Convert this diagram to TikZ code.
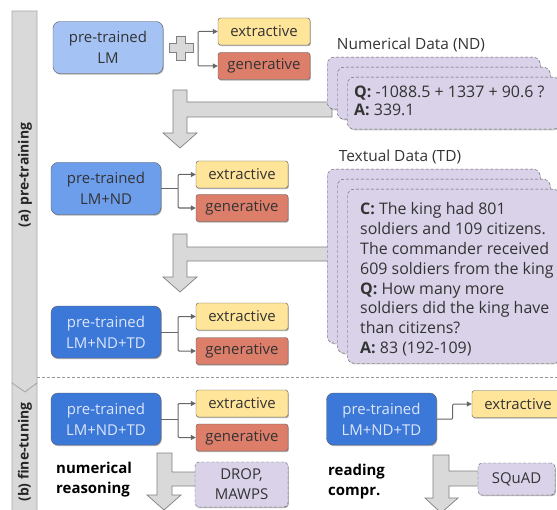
\documentclass[tikz,border=0pt]{standalone}
\usepackage{fontspec}
\setmainfont{Open Sans}
\usetikzlibrary{shadows}
\usetikzlibrary{arrows.meta}
\definecolor{lmColorA}{HTML}{A4C2F4}
\definecolor{lmColorB}{HTML}{6D9EEB}
\definecolor{lmColorC}{HTML}{3C78D8}
\definecolor{extColor}{HTML}{FFE599}
\definecolor{genColor}{HTML}{DD7E6B}
\definecolor{dataColor}{HTML}{D9D2E9}
\definecolor{arrowColor}{HTML}{D9D9D9}
\definecolor{arrowLineColor}{HTML}{808080}
\definecolor{lineColor}{HTML}{595959}
\definecolor{forkColor}{HTML}{666666}
\definecolor{textColor}{HTML}{333333}
\definecolor{lightTextColor}{HTML}{DCE6FA}
\def\textLM{pre-trained\\LM}
\def\textND{pre-trained\\LM+ND}
\def\textTD{pre-trained\\LM+ND+TD}
\tikzset{
  boxshadow/.style={drop shadow={shadow xshift=.8bp, shadow yshift=-1.2bp, opacity=.3, fill=black}},
  lmbox/.style={draw=lineColor, rounded corners=7bp, minimum width=110bp, minimum height=52bp,
    align=center, inner sep=0pt, boxshadow, font=\fontsize{15}{21}\selectfont},
  headbox/.style={draw=lineColor, rounded corners=2.5bp, minimum width=92bp, minimum height=27bp,
    inner sep=0pt, text=textColor, boxshadow, font=\fontsize{15}{18}\selectfont},
  card/.style={draw=lineColor, densely dashed, fill=dataColor, rounded corners=7bp,
    inner sep=0pt, drop shadow={shadow xshift=.8bp, shadow yshift=-1.2bp, opacity=.2, fill=black}},
  setbox/.style={draw=lineColor, densely dashed, fill=dataColor, rounded corners=4bp,
    align=center, inner sep=0pt, text=textColor, boxshadow, font=\fontsize{15}{20}\selectfont},
  fork/.style={draw=forkColor, line width=1bp, rounded corners=1bp},
  forktip/.style={-{Triangle[length=5bp, width=5bp]}, fork},
  bigarrow/.style={fill=arrowColor, draw=arrowLineColor, line width=.7bp},
  bar/.style={fill=arrowColor, draw=arrowLineColor!70, line width=.7bp},
}

\begin{document}
\begin{tikzpicture}[x=1bp,y=-1bp]
\useasboundingbox (0,0) rectangle (557,510);

% side bars
\begin{scope}
\filldraw[bar] (12,11) -- (37,11) -- (37,383) -- (25,392) -- (12,383) -- cycle;
\filldraw[bar] (12,383) -- (25,392) -- (37,383) -- (37,515) -- (12,515) -- cycle;
\node[rotate=90, font=\fontsize{14}{14}\selectfont\bfseries, text=black!85] (barA) at (25,175) {(a) pre-training};
\node[rotate=90, font=\fontsize{14}{14}\selectfont\bfseries, text=black!85] (barB) at (25,452) {(b) fine-tuning};
\draw[densely dashed, draw=black!40, line width=.7bp] (37,377) -- (557,377);
\end{scope}

% arrow layer
\begin{scope}
\filldraw[bigarrow] (173,90) -- (187,90) -- (187,102) -- (332,102) -- (332,117) -- (187,117)
  -- (187,133) -- (197,133) -- (180,148) -- (163,133) -- (173,133) -- cycle;
\filldraw[bigarrow] (173,234) -- (187,234) -- (187,247) -- (332,247) -- (332,261) -- (187,261)
  -- (187,277) -- (197,277) -- (180,292) -- (163,277) -- (173,277) -- cycle;
\filldraw[bigarrow] (157,453) -- (172,453) -- (172,472) -- (200,472) -- (200,486) -- (172,486)
  -- (172,495) -- (181,495) -- (164,510) -- (147,495) -- (157,495) -- cycle;
\filldraw[bigarrow] (433,455) -- (449,455) -- (449,471) -- (482,471) -- (482,486) -- (449,486)
  -- (449,498) -- (458,498) -- (441,513) -- (425,498) -- (433,498) -- cycle;
\end{scope}

% data layer
\begin{scope}
\node[text=textColor, font=\fontsize{15.5}{18}\selectfont] (ndTitle) at (411,45) {Numerical Data (ND)};
\foreach \i in {0,1,2}
  \node[card, minimum width=213bp, minimum height=52bp, anchor=north west] (nd\i) at ({327+10*\i},{57+10*\i}) {};
\node[anchor=north west, align=left, inner sep=0pt, text=textColor, font=\fontsize{16}{18}\selectfont]
  (ndText) at (354,86) {\textbf{Q:} -1088.5 + 1337 + 90.6 ?\\\textbf{A:} 339.1};
\node[text=textColor, font=\fontsize{15.5}{18}\selectfont] (tdTitle) at (400,157) {Textual Data (TD)};
\foreach \i in {0,1,2}
  \node[card, minimum width=213bp, minimum height=174bp, anchor=north west] (td\i) at ({327+10*\i},{169+10*\i}) {};
\node[anchor=north west, align=left, inner sep=0pt, text=textColor, font=\fontsize{16}{20}\selectfont]
  (tdText) at (360,202) {\textbf{C:} The king had 801\\soldiers and 109 citizens.\\The commander received\\609 soldiers from the king\\
  \textbf{Q:} How many more\\soldiers did the king have\\than citizens?\\\textbf{A:} 83 (192-109)};
\end{scope}

% model layer
\begin{scope}
\node[lmbox, fill=lmColorA, text=textColor] (lm) at (108,47.5) {\textLM};
\node[headbox, fill=extColor] (extA) at (264,31.5) {extractive};
\node[headbox, fill=genColor] (genA) at (264,66) {generative};
\filldraw[bigarrow] (176.5,36) -- (185.5,36) -- (185.5,43.5) -- (193,43.5) -- (193,52.5) -- (185.5,52.5)
  -- (185.5,60) -- (176.5,60) -- (176.5,52.5) -- (169,52.5) -- (169,43.5) -- (176.5,43.5) -- cycle;
\coordinate (forkA) at (198,48);
\draw[forktip] (forkA) |- (extA.west);
\draw[forktip] (forkA) |- (genA.west);

\node[lmbox, fill=lmColorB, text=textColor] (lmND) at (106,188.5) {\textND};
\node[headbox, fill=extColor] (extB) at (242,174.5) {extractive};
\node[headbox, fill=genColor] (genB) at (242,208) {generative};
\draw[fork] (lmND.east) -- ++(17,0) coordinate (forkB);
\draw[forktip] (forkB) |- (extB.west);
\draw[forktip] (forkB) |- (genB.west);

\node[lmbox, fill=lmColorC, text=lightTextColor] (lmTD) at (106,332) {\textTD};
\node[headbox, fill=extColor] (extC) at (242,316.5) {extractive};
\node[headbox, fill=genColor] (genC) at (242,351) {generative};
\draw[fork] (lmTD.east) -- ++(17,0) coordinate (forkC);
\draw[forktip] (forkC) |- (extC.west);
\draw[forktip] (forkC) |- (genC.west);
\end{scope}

% fine-tuning layer
\begin{scope}
\node[lmbox, fill=lmColorC, text=lightTextColor] (numTD) at (106,419) {\textTD};
\node[headbox, fill=extColor] (extD) at (242,403.5) {extractive};
\node[headbox, fill=genColor] (genD) at (242,437.5) {generative};
\draw[fork] (numTD.east) -- ++(17,0) coordinate (forkD);
\draw[forktip] (forkD) |- (extD.west);
\draw[forktip] (forkD) |- (genD.west);
\node[setbox, minimum width=93bp, minimum height=45bp] (drop) at (241.5,484.5) {DROP,\\MAWPS};
\node[anchor=west, align=left, inner sep=0pt, font=\fontsize{15}{20}\selectfont\bfseries] (numLabel) at (56,480) {numerical\\reasoning};

\node[lmbox, fill=lmColorC, text=lightTextColor] (rcTD) at (381.5,419) {\textTD};
\node[headbox, fill=extColor] (extE) at (518,404) {extractive};
\draw[forktip] (rcTD.east) -- ++(16,0) |- (extE.west);
\node[setbox, minimum width=77bp, minimum height=32bp] (squad) at (516.5,479) {SQuAD};
\node[anchor=west, align=left, inner sep=0pt, font=\fontsize{15}{20}\selectfont\bfseries] (rcLabel) at (328,482) {reading\\compr.};
\end{scope}

\end{tikzpicture}
\end{document}
